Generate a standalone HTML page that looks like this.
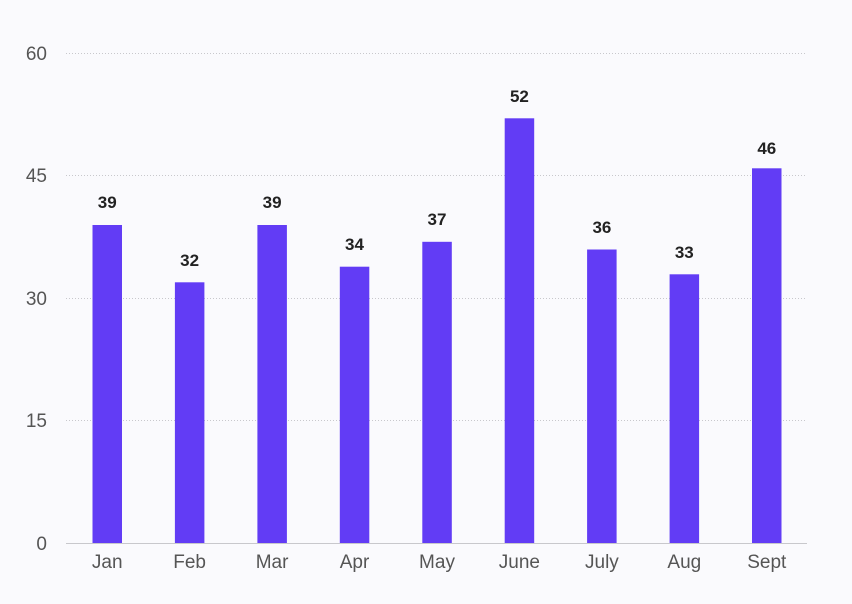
<!DOCTYPE html>
<html><head><style>body{margin:0;background:#fafafd}svg{display:block}</style></head><body>
<svg width="852" height="604" xmlns="http://www.w3.org/2000/svg" font-family="Liberation Sans, sans-serif">
<rect width="852" height="604" fill="#fafafd"/>
<g stroke="#c8c8cc" stroke-dasharray="1,2" stroke-width="1">
<line x1="66" x2="807" y1="53.5" y2="53.5"/><line x1="66" x2="807" y1="175.5" y2="175.5"/>
<line x1="66" x2="807" y1="298.5" y2="298.5"/><line x1="66" x2="807" y1="420.5" y2="420.5"/>
</g>
<line x1="66" x2="807" y1="543.5" y2="543.5" stroke="#c8c8cc"/>
<g font-size="19" fill="#555" text-anchor="end">
<text x="47" y="60">60</text><text x="47" y="182">45</text><text x="47" y="305">30</text><text x="47" y="427">15</text><text x="47" y="550">0</text>
</g>
<g fill="#623cf5">
<rect x="92.5" y="225" width="29.5" height="318"/>
<rect x="174.9" y="282.3" width="29.5" height="260.7"/>
<rect x="257.4" y="225" width="29.5" height="318"/>
<rect x="339.8" y="266.7" width="29.5" height="276.3"/>
<rect x="422.3" y="241.8" width="29.5" height="301.2"/>
<rect x="504.7" y="118.3" width="29.5" height="424.7"/>
<rect x="587.1" y="249.5" width="29.5" height="293.5"/>
<rect x="669.6" y="274.3" width="29.5" height="268.7"/>
<rect x="752" y="168.3" width="29.5" height="374.7"/>
</g>
<g font-size="17" font-weight="bold" fill="#222" text-anchor="middle">
<text x="107.2" y="208">39</text><text x="189.6" y="266">32</text><text x="272.1" y="208">39</text>
<text x="354.5" y="250">34</text><text x="437" y="225">37</text><text x="519.4" y="102">52</text>
<text x="601.9" y="233">36</text><text x="684.3" y="258">33</text><text x="766.8" y="154">46</text>
</g>
<g font-size="19" fill="#555" text-anchor="middle">
<text x="107.2" y="568">Jan</text><text x="189.6" y="568">Feb</text><text x="272.1" y="568">Mar</text>
<text x="354.5" y="568">Apr</text><text x="437" y="568">May</text><text x="519.4" y="568">June</text>
<text x="601.9" y="568">July</text><text x="684.3" y="568">Aug</text><text x="766.8" y="568">Sept</text>
</g>
</svg>
</body></html>
